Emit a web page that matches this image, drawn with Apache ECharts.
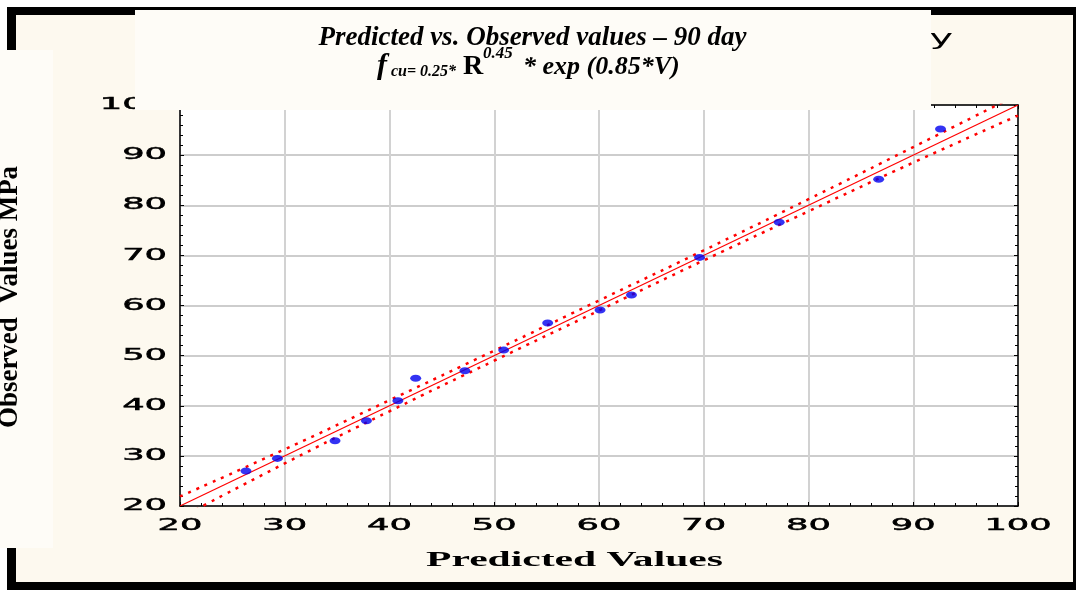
<!DOCTYPE html>
<html>
<head>
<meta charset="utf-8">
<script src="https://cdn.jsdelivr.net/npm/echarts@6/dist/echarts.min.js"></script>
<style>
  html, body { margin: 0; padding: 0; background: #ffffff; }
  #chart { width: 1076px; height: 590px; }
</style>
</head>
<body>
<div id="chart"></div>
<script>
// Observed vs. predicted compressive strength (MPa), 90-day specimens
const predicted = [26.3, 29.3, 34.8, 37.8, 40.8, 42.5, 47.2, 50.9, 55.1, 60.1, 63.1, 69.6, 77.2, 86.7, 92.6];
const observed  = [27.0, 29.5, 33.0, 37.0, 41.0, 45.5, 47.0, 51.1, 56.5, 59.1, 62.1, 69.6, 76.6, 85.2, 95.2];

// Fitted line and its 95% confidence band
const fitX = [20, 100];
const fitY = [20, 100];
const bandX     = [20, 30, 40, 50, 60, 70, 80, 90, 100];
const bandUpper = [21.9, 31.3, 41.1, 51.0, 61.0, 71.0, 81.2, 91.6, 102.1];
const bandLower = [17.6, 28.5, 38.9, 49.0, 59.0, 69.0, 78.8, 88.5, 97.9];

// Axis ticks
const xTicks = [20, 30, 40, 50, 60, 70, 80, 90, 100];
const yTicks = [20, 30, 40, 50, 60, 70, 80, 90, 100];

const titleLine1 = 'Predicted vs. Observed values \u2013 90 day';
const xName = 'Predicted Values';
const yName = 'Observed  Values MPa';

const CREAM = '#fdf9ef';
const PANEL = '#fefcf7';

const zip = (a, b) => a.map((v, i) => [v, b[i]]);

const chart = echarts.init(document.getElementById('chart'), null, { renderer: 'canvas' });

function axis(pos, gridColor, gridWidth, showSplit) {
  return {
    type: 'value',
    position: pos,
    min: 20, max: 100, interval: 10,
    axisLine: { show: true, onZero: false, lineStyle: { color: '#000', width: 1.5 } },
    axisTick: { show: true, inside: true, length: 4, lineStyle: { color: '#000', width: 1 } },
    minorTick: { show: true, splitNumber: 5, length: 3, lineStyle: { color: '#000', width: 1 } },
    splitLine: { show: showSplit, lineStyle: { color: gridColor, width: gridWidth } },
    axisLabel: { show: false }
  };
}

const baseOption = {
  animation: false,
  grid: { left: 180, right: 58, top: 105, bottom: 84, show: true, backgroundColor: '#ffffff', borderWidth: 0 },
  xAxis: [axis('bottom', '#d2d2d2', 2, true), axis('top', '#d2d2d2', 2, false)],
  yAxis: [axis('left', '#bdbdbd', 1.5, true), axis('right', '#bdbdbd', 1.5, false)],
  series: [
    {
      type: 'line', data: zip(bandX, bandUpper), symbol: 'none', smooth: true, clip: true,
      lineStyle: { color: '#ff0000', width: 2.5, type: [3, 6] }, z: 3
    },
    {
      type: 'line', data: zip(bandX, bandLower), symbol: 'none', smooth: true, clip: true,
      lineStyle: { color: '#ff0000', width: 2.5, type: [3, 6] }, z: 3
    },
    {
      type: 'line', data: zip(fitX, fitY), symbol: 'none', clip: true,
      lineStyle: { color: '#ff0000', width: 1.2 }, z: 3
    },
    {
      type: 'scatter', data: zip(predicted, observed), symbol: 'circle', symbolSize: [11, 7],
      itemStyle: { color: '#0000f0' }, z: 4
    }
  ]
};

chart.setOption(baseOption);

const tickFont = { fontFamily: 'DejaVu Sans', fontSize: 16, fill: '#000', stroke: '#000', lineWidth: 0.5 };
const graphics = [
  // frame and panels
  { type: 'rect', z: -30, silent: true, shape: { x: 7, y: 7, width: 1075, height: 583 }, style: { fill: '#000' } },
  { type: 'rect', z: -29, silent: true, shape: { x: 16, y: 15, width: 1057, height: 567 }, style: { fill: CREAM } },
  { type: 'rect', z: -28, silent: true, shape: { x: 0, y: 50, width: 53, height: 498 }, style: { fill: PANEL } }
];

xTicks.forEach(v => {
  const p = chart.convertToPixel({ gridIndex: 0 }, [v, 20]);
  graphics.push({
    type: 'text', z: 10, x: p[0], y: 525.5, scaleX: 2.2, originX: 0, originY: 0,
    style: Object.assign({ text: String(v), x: 0, y: 0, align: 'center', verticalAlign: 'middle' }, tickFont)
  });
});
yTicks.forEach(v => {
  const p = chart.convertToPixel({ gridIndex: 0 }, [20, v]);
  graphics.push({
    type: 'text', z: 10, x: 167, y: p[1], scaleX: 2.2, originX: 0, originY: 0,
    style: Object.assign({ text: String(v), x: 0, y: 0, align: 'right', verticalAlign: 'middle' }, tickFont)
  });
});

// axis names
graphics.push({
  type: 'text', z: 10, x: 574.5, y: 561, scaleX: 2.08, originX: 0, originY: 0,
  style: { text: xName, x: 0, y: 0, align: 'center', verticalAlign: 'middle',
           fontFamily: 'Liberation Serif', fontWeight: 'bold', fontSize: 20, fill: '#000' }
});
graphics.push({
  type: 'text', z: 10, x: 24, y: 297, rotation: Math.PI / 2,
  style: { text: yName, x: 0, y: 0, align: 'center', verticalAlign: 'bottom',
           fontFamily: 'Liberation Serif', fontWeight: 'bold', fontSize: 27, fill: '#000' }
});

// glyph of the panel heading behind the title box
graphics.push({
  type: 'text', z: 40, x: 953, y: 40, scaleX: 1.9, originX: 0, originY: 0,
  style: { text: 'y', x: 0, y: 0, align: 'right', verticalAlign: 'middle',
           fontFamily: 'DejaVu Sans', fontSize: 21, fill: '#000' }
});

// title box
graphics.push({ type: 'rect', z: 50, silent: true, shape: { x: 135, y: 10, width: 796, height: 100 }, style: { fill: PANEL } });

const serifBI = { fontFamily: 'Liberation Serif', fontWeight: 'bold', fontStyle: 'italic', fill: '#000' };
function titleText(text, x, y, size, align, extra) {
  return {
    type: 'text', z: 51, x: x, y: y,
    style: Object.assign({ text: text, x: 0, y: 0, align: align, verticalAlign: 'middle', fontSize: size }, serifBI, extra || {})
  };
}
graphics.push(titleText(titleLine1, 532.5, 38, 27, 'center'));
graphics.push(titleText('f', 377, 66, 30, 'left'));
graphics.push(titleText('cu= 0.25*', 391, 72, 16, 'left'));
graphics.push(titleText('R', 463, 66.5, 28, 'left', { fontStyle: 'normal' }));
graphics.push(titleText('0.45', 483, 54, 17, 'left'));
graphics.push(titleText('* exp (0.85*V)', 523, 67, 26, 'left'));

chart.setOption({ graphic: { elements: graphics } });
</script>
</body>
</html>
